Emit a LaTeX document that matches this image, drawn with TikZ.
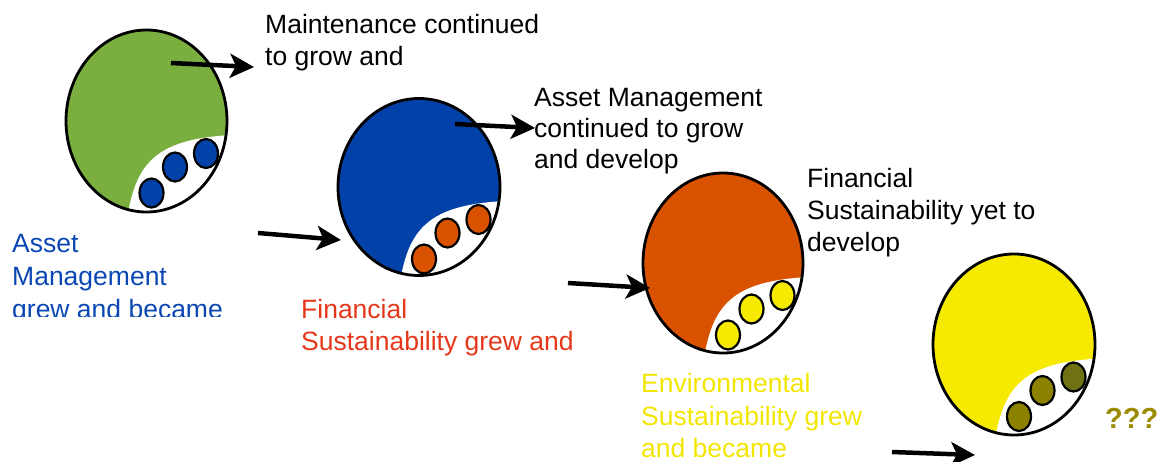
\documentclass[tikz,border=0pt]{standalone}
\usepackage{fontspec}
\setmainfont{Liberation Sans}
\usetikzlibrary{arrows.meta}
\definecolor{cgreen}{HTML}{7AAE3E}
\definecolor{cblue}{HTML}{0242A8}
\definecolor{corange}{HTML}{D95200}
\definecolor{cyellow}{HTML}{F5EA00}
\definecolor{colive}{HTML}{8C8200}
\definecolor{colivedk}{HTML}{6E7212}
\definecolor{tblue}{HTML}{0A47B4}
\definecolor{tred}{HTML}{E5381B}
\definecolor{tyellow}{HTML}{F2E600}
\definecolor{tolive}{HTML}{9A8B00}
\newcommand\mybubble[8]{%
  \coordinate (#1) at #2;
  \begin{scope}[shift={#2}]
    \begin{scope}
      \clip (0,0) ellipse [x radius=#3, y radius=#4];
      \fill[#5] (0,0) ellipse [x radius=#3, y radius=#4];
      \fill[white] (-19,95) .. controls (-10,40) and (12,18) .. (85,14) -- (100,14) -- (100,110) -- (-19,110) -- cycle;
    \end{scope}
    \draw[outl] (0,0) ellipse [x radius=#3, y radius=#4];
    \draw[dotst, fill=#6] (5,72) ellipse [x radius=12, y radius=14.5];
    \draw[dotst, fill=#7] (28.5,46) ellipse [x radius=12, y radius=14.5];
    \draw[dotst, fill=#8] (59.5,32.5) ellipse [x radius=12, y radius=14.5];
  \end{scope}}
\tikzset{
  outl/.style={line width=2.8pt, black},
  dotst/.style={line width=2.2pt, black},
  arr/.style={line width=4.5pt, -{Stealth[length=24pt,width=24pt,inset=6pt]}},
  lbl/.style={anchor=base west, inner sep=0pt, font=\fontsize{26.5}{32}\selectfont},
}
\begin{document}
\begin{tikzpicture}[x=1pt,y=-1pt]
\useasboundingbox (0,0) rectangle (1163,461);
\mybubble{e1}{(146.5,121)}{80.5}{91}{cgreen}{cblue}{cblue}{cblue}
\mybubble{e2}{(419,187)}{81}{88.5}{cblue}{corange}{corange}{corange}
\mybubble{e3}{(723,263)}{80}{90}{corange}{cyellow}{cyellow}{cyellow}
\mybubble{e4}{(1014,344.5)}{81}{90.5}{cyellow}{colive}{colive}{colivedk}

\node[lbl] (m1) at (265,33) {Maintenance continued};
\node[lbl] (m2) at (265,65) {to grow and};

\node[lbl] (a1) at (534,106) {Asset Management};
\node[lbl] (a2) at (534,137) {continued to grow};
\node[lbl] (a3) at (534,168) {and develop};

\node[lbl] (f1) at (807,187) {Financial};
\node[lbl] (f2) at (807,219) {Sustainability yet to};
\node[lbl] (f3) at (807,251) {develop};

\begin{scope}
\clip (0,0) rectangle (300,316);
\node[lbl, text=tblue] (b1) at (12,252) {Asset};
\node[lbl, text=tblue] (b2) at (12,285) {Management};
\node[lbl, text=tblue] (b3) at (12,318) {grew and became};
\end{scope}

\node[lbl, text=tred] (r1) at (301,318) {Financial};
\node[lbl, text=tred] (r2) at (301,350) {Sustainability grew and};

\node[lbl, text=tyellow] (y1) at (641,392) {Environmental};
\node[lbl, text=tyellow] (y2) at (641,425) {Sustainability grew};
\node[lbl, text=tyellow] (y3) at (641,457) {and became};

\node[anchor=base west, inner sep=0pt, text=tolive, font=\fontsize{29}{34}\selectfont\bfseries] (q) at (1105,428) {???};

\coordinate (s1) at (171,63);  \coordinate (t1) at (254,67);
\coordinate (s2) at (258,233); \coordinate (t2) at (341,240);
\coordinate (s3) at (455,124); \coordinate (t3) at (535,128);
\coordinate (s4) at (568,283); \coordinate (t4) at (650,288);
\coordinate (s5) at (892,452); \coordinate (t5) at (975,455);
\draw[arr] (s1) -- (t1);
\draw[arr] (s2) -- (t2);
\draw[arr] (s3) -- (t3);
\draw[arr] (s4) -- (t4);
\draw[arr] (s5) -- (t5);
\end{tikzpicture}
\end{document}
